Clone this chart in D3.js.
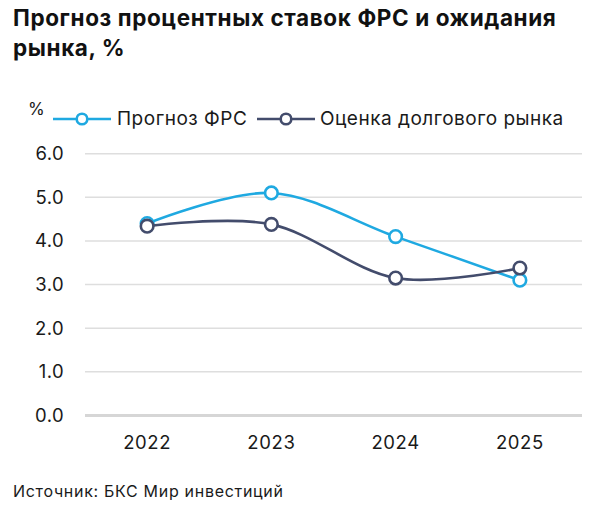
<!DOCTYPE html>
<html><head><meta charset="utf-8">
<script src="https://cdn.jsdelivr.net/npm/d3@7"></script>
<style>
html,body{margin:0;padding:0;background:#fff;}
svg{display:block;font-family:Inter,Roboto,sans-serif;}
</style></head>
<body>
<svg id="chart" width="600" height="507"></svg>
<script>
const years = ["2022", "2023", "2024", "2025"];
const fedForecast = [4.4, 5.1, 4.1, 3.1];
const marketEstimate = [4.34, 4.38, 3.15, 3.38];
const yTicks = [0, 1, 2, 3, 4, 5, 6];
const seriesNames = ["Прогноз ФРС", "Оценка долгового рынка"];
const seriesColors = ["#1fa9e1", "#434c6c"];
const titleLines = ["Прогноз процентных ставок ФРС и ожидания", "рынка, %"];
const sourceText = "Источник: БКС Мир инвестиций";

const svg = d3.select("#chart");
const x = d3.scaleBand().domain(years).range([85, 582]);
const y = d3.scaleLinear().domain([0, 6]).range([415.5, 153.7]);

// title
svg.append("g").selectAll("text").data(titleLines).join("text")
  .attr("x", 13).attr("y", (d, i) => 26 + i * 29.5)
  .attr("font-size", 22.5).attr("font-weight", 700).attr("letter-spacing", 0.6).attr("fill", "#111")
  .text(d => d);

// grid
svg.append("g").selectAll("line").data(yTicks).join("line")
  .attr("x1", 85).attr("x2", 582)
  .attr("y1", d => y(d)).attr("y2", d => y(d))
  .attr("stroke", d => d === 0 ? "#d6d6d6" : "#dedede")
  .attr("stroke-width", d => d === 0 ? 3 : 1.5);

// y axis labels
const yAxis = d3.axisLeft(y).tickValues(yTicks).tickFormat(d3.format(".1f")).tickSize(0).tickPadding(0);
const ga = svg.append("g").attr("transform", "translate(64,0)").call(yAxis);
ga.select(".domain").remove();
ga.selectAll("text").attr("font-size", 18.5).attr("letter-spacing", 0.4).attr("fill", "#1a1a1a").attr("font-family", "Inter,sans-serif");

// x axis labels
const xAxis = d3.axisBottom(x).tickSize(0).tickPadding(0);
const gx = svg.append("g").attr("transform", "translate(0,436)").call(xAxis);
gx.select(".domain").remove();
gx.selectAll("text").attr("font-size", 18.5).attr("letter-spacing", 0.6).attr("fill", "#1a1a1a").attr("font-family", "Inter,sans-serif");

// lines
const cx = d => x(d) + x.bandwidth() / 2;
const line = d3.line().x(d => cx(d.year)).y(d => y(d.v)).curve(d3.curveCardinal.tension(0));
const series = [fedForecast, marketEstimate].map((vals, i) => ({
  name: seriesNames[i], color: seriesColors[i],
  pts: years.map((yr, j) => ({ year: yr, v: vals[j] }))
}));
series.forEach(s => {
  const g = svg.append("g");
  g.append("path").attr("d", line(s.pts)).attr("fill", "none")
    .attr("stroke", s.color).attr("stroke-width", 2.6);
  g.selectAll("circle").data(s.pts).join("circle")
    .attr("cx", d => cx(d.year)).attr("cy", d => y(d.v)).attr("r", 6.3)
    .attr("fill", "#fff").attr("stroke", s.color).attr("stroke-width", 2.6);
});

// legend
svg.append("text").attr("x", 28).attr("y", 114.5).attr("font-size", 17).attr("fill", "#1a1a1a").text("%");
const legendX = [[53, 111, 117], [257, 315, 320]];
series.forEach((s, i) => {
  const [a, b, t] = legendX[i];
  const g = svg.append("g");
  g.append("line").attr("x1", a).attr("x2", b).attr("y1", 119).attr("y2", 119)
    .attr("stroke", s.color).attr("stroke-width", 2.6);
  g.append("circle").attr("cx", (a + b) / 2).attr("cy", 119).attr("r", 5.3)
    .attr("fill", "#fff").attr("stroke", s.color).attr("stroke-width", 2.6);
  g.append("text").attr("x", t).attr("y", 125).attr("font-size", 19).attr("letter-spacing", 0.5)
    .attr("fill", "#1a1a1a").text(s.name);
});

// source
svg.append("text").attr("x", 13).attr("y", 497).attr("font-size", 16).attr("letter-spacing", 0.7)
  .attr("fill", "#1a1a1a").text(sourceText);
</script>
</body></html>
